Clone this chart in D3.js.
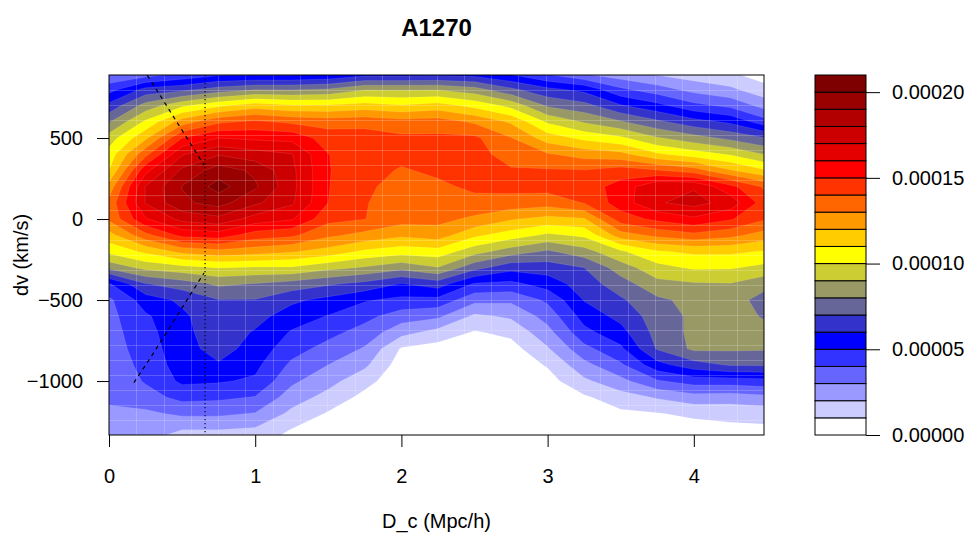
<!DOCTYPE html>
<html>
<head>
<meta charset="utf-8">
<script src="https://cdn.jsdelivr.net/npm/d3@7/dist/d3.min.js"></script>
<style>
  body { margin: 0; background: #fff; }
  svg { display: block; font-family: "Liberation Sans", Arial, Helvetica, sans-serif; }
</style>
</head>
<body>
<svg id="chart" width="971" height="537"></svg>
<script>
// density grid: one column per D_c value, one row per dv value (top to bottom)
const dcGrid = [0, 0.25, 0.5, 0.75, 1, 1.25, 1.5, 1.75, 2, 2.25, 2.5, 2.75, 3, 3.25, 3.5, 3.75, 4, 4.25, 4.5];
const dvGrid = [900, 800, 700, 600, 500, 400, 300, 200, 100, 0, -100, -200, -300, -400, -500,
  -600, -700, -800, -900, -1000, -1100, -1200, -1300, -1400];

// values in units of 1e-5
const density = [
  [3.0, 3.3, 4.0, 4.6, 4.6, 4.6, 4.8, 5.4, 5.4, 5.5, 5.4, 4.8, 3.8, 2.9, 2.3, 1.8, 1.4, 1.1, 0.4],
  [4.6, 6.3, 6.7, 7.4, 7.9, 7.9, 8.1, 8.9, 8.9, 8.9, 8.4, 7.2, 6.25, 5.7, 4.2, 3.45, 2.65, 2.2, 1.3],
  [6.3, 8.4, 9.8, 10.8, 11.5, 11.1, 11.1, 11.4, 11.1, 11.4, 10.7, 9.7, 7.85, 7.35, 6.1, 5.3, 4.3, 3.75, 2.55],
  [7.9, 10.2, 12.5, 13.8, 14.2, 13.8, 13.6, 13.7, 13.4, 13.5, 12.85, 11.85, 9.85, 8.9, 8.1, 7.2, 6.4, 5.8, 4.35],
  [9.5, 11.8, 15.0, 16.0, 15.8, 15.7, 14.5, 14.4, 14.2, 14.2, 14.2, 13.05, 11.5, 10.75, 10.2, 9.1, 8.4, 7.75, 7.0],
  [10.4, 13.7, 16.9, 17.9, 17.4, 17.05, 15.02, 14.5, 14.3, 14.3, 14.35, 13.6, 13.1, 12.6, 12.3, 11.15, 10.5, 9.9, 8.9],
  [11.0, 15.7, 18.2, 19.5, 18.8, 17.25, 15.05, 14.4, 13.9, 14.2, 14.35, 14.1, 14.1, 14.05, 14.45, 14.1, 13.5, 12.1, 11.05],
  [12.4, 17.05, 19.05, 20.4, 19.15, 17.3, 15.04, 14.15, 13.7, 13.8, 14.2, 14.3, 14.4, 14.5, 15.4, 16.9, 16.9, 15.3, 13.75],
  [13.3, 17.05, 18.8, 19.4, 18.2, 17.15, 15.0, 14.05, 13.6, 13.6, 13.7, 13.6, 13.4, 14.05, 15.5, 16.9, 17.35, 16.6, 14.35],
  [13.2, 15.9, 17.3, 17.7, 16.55, 16.1, 14.3, 14.02, 13.4, 13.3, 12.8, 12.1, 11.7, 11.9, 14.5, 15.25, 15.8, 15.1, 14.05],
  [11.6, 13.7, 15.3, 15.5, 14.5, 14.2, 13.2, 12.7, 12.2, 12.5, 11.2, 10.5, 9.8, 10.2, 12.55, 13.25, 13.7, 13.3, 12.5],
  [10.3, 11.2, 12.3, 12.7, 12.45, 12.1, 11.6, 10.8, 10.45, 10.6, 9.4, 8.5, 7.85, 8.6, 9.85, 10.9, 11.2, 11.2, 10.9],
  [8.3, 9.3, 9.7, 10.05, 9.9, 9.9, 9.3, 8.9, 8.35, 8.95, 7.35, 6.35, 6.5, 7.0, 8.5, 9.67, 10.15, 10.1, 9.7],
  [4.9, 6.95, 7.5, 8.2, 7.95, 7.6, 7.15, 6.7, 5.95, 6.5, 4.9, 4.75, 5.45, 6.5, 7.55, 8.7, 8.9, 8.95, 8.3],
  [3.8, 5.5, 6.2, 6.95, 6.95, 6.2, 5.7, 5.1, 4.75, 4.7, 3.3, 3.2, 4.2, 6.05, 6.85, 7.8, 8.3, 8.5, 7.5],
  [3.7, 4.85, 5.8, 6.7, 6.35, 5.5, 4.95, 4.3, 3.5, 3.2, 1.8, 2.15, 3.4, 5.4, 6.3, 7.5, 8.2, 8.5, 7.85],
  [3.6, 4.65, 5.7, 6.6, 5.9, 4.9, 4.3, 3.6, 2.35, 1.6, 0.9, 1.25, 2.65, 4.7, 5.65, 7.35, 8.25, 8.4, 8.3],
  [3.5, 4.5, 5.6, 6.4, 5.6, 4.4, 3.65, 2.9, 0.9, 0.6, 0.5, 0.6, 1.9, 3.7, 4.8, 7.1, 8.2, 8.15, 8.1],
  [3.4, 4.3, 5.5, 5.9, 5.25, 3.8, 3.0, 2.2, 0.5, 0.3, 0.3, 0.35, 1.1, 2.7, 3.85, 5.65, 6.6, 7.1, 7.15],
  [3.2, 4.1, 5.2, 5.1, 4.85, 3.2, 2.35, 1.35, 0.3, 0.2, 0.2, 0.25, 0.6, 1.8, 2.7, 3.9, 4.45, 4.5, 4.65],
  [3.1, 3.6, 4.3, 4.2, 3.95, 2.5, 1.65, 0.7, 0.2, 0.15, 0.15, 0.2, 0.4, 0.85, 1.55, 2.1, 2.6, 2.5, 2.75],
  [2.9, 2.8, 3.2, 3.2, 2.95, 1.75, 0.9, 0.4, 0.15, 0.1, 0.1, 0.15, 0.3, 0.5, 0.8, 0.95, 1.2, 1.3, 1.4],
  [2.7, 2.3, 2.0, 2.0, 1.85, 0.95, 0.5, 0.25, 0.1, 0.1, 0.1, 0.1, 0.2, 0.35, 0.45, 0.5, 0.6, 0.75, 0.8],
  [2.5, 1.9, 1.3, 1.2, 1.1, 0.6, 0.3, 0.15, 0.1, 0.1, 0.1, 0.1, 0.15, 0.25, 0.3, 0.3, 0.4, 0.5, 0.5]
];

const levels = [0, 1, 2, 3, 4, 5, 6, 7, 8, 9, 10, 11, 12, 13, 14, 15, 16, 17, 18, 19, 20];
const levelColors = ['#FFFFFF', '#CCCCFF', '#9999FF', '#6666FF', '#3333FF', '#0000FF', '#3333CC',
  '#666699', '#999966', '#CCCC33', '#FFFF00', '#FFCC00', '#FF9900', '#FF6600', '#FF3300',
  '#FF0000', '#E50000', '#CC0000', '#B20000', '#990000', '#7F0000'];

const xTicks = [0, 1, 2, 3, 4];
const yTicks = [500, 0, -500, -1000];
const keyTicks = [0, 5, 10, 15, 20];
const keyTickLabels = ['0.00000', '0.00005', '0.00010', '0.00015', '0.00020'];

// caustic amplitude (dashed, +/-) and virial radius (dotted)
const causticR = [0.17, 0.285, 0.65];
const causticA = [1010, 855, 333];
const rVirial = 0.657;

const plot = { left: 109, right: 764, top: 75, bottom: 435 };
const key = { left: 815, right: 866 };

const svg = d3.select('#chart');

const x = d3.scaleLinear().domain([0, 4.48]).range([plot.left, plot.right]);
const y = d3.scaleLinear().domain([-1333, 889]).range([plot.bottom, plot.top]);

svg.append('defs').append('clipPath').attr('id', 'plot-clip')
  .append('rect')
  .attr('x', plot.left).attr('y', plot.top)
  .attr('width', plot.right - plot.left).attr('height', plot.bottom - plot.top);

const plotArea = svg.append('g').attr('clip-path', 'url(#plot-clip)');

// filled contours
const nx = dcGrid.length;
const ny = dvGrid.length;
const gridX = d3.scaleLinear().domain([0.5, nx - 0.5]).range([dcGrid[0], dcGrid[nx - 1]]);
const gridY = d3.scaleLinear().domain([0.5, ny - 0.5]).range([dvGrid[0], dvGrid[ny - 1]]);
const toScreen = d3.geoTransform({
  point(gx, gy) { this.stream.point(x(gridX(gx)), y(gridY(gy))); }
});
const contourPath = d3.geoPath(toScreen);
const bands = d3.contours().size([nx, ny]).thresholds(levels)(density.flat());

plotArea.selectAll('path.band')
  .data(bands)
  .join('path')
  .attr('class', 'band')
  .attr('d', contourPath)
  .attr('fill', d => levelColors[levels.indexOf(d.value)])
  .attr('stroke', d => d.value > 0 ? 'rgba(255,255,255,0.18)' : 'none')
  .attr('stroke-width', 0.6);

// faint cell seams of the original polygon fill
const seamCols = d3.range(1, 24).map(i => 4.48 * i / 24);
const seamRows = d3.range(1, 24).map(j => -1333 + 2222 * j / 24);
const seams = plotArea.append('g')
  .attr('stroke', '#fff').attr('stroke-opacity', 0.2).attr('stroke-width', 1)
  .attr('shape-rendering', 'crispEdges');
seams.selectAll('line.col').data(seamCols).join('line').attr('class', 'col')
  .attr('x1', d => Math.round(x(d)) + 0.5).attr('x2', d => Math.round(x(d)) + 0.5)
  .attr('y1', plot.top).attr('y2', plot.bottom);
seams.selectAll('line.row').data(seamRows).join('line').attr('class', 'row')
  .attr('y1', d => Math.round(y(d)) + 0.5).attr('y2', d => Math.round(y(d)) + 0.5)
  .attr('x1', plot.left).attr('x2', plot.right);

// caustic lines
const causticLine = d3.line().x(d => x(d[0])).y(d => y(d[1]));
[1, -1].forEach(sign => {
  plotArea.append('path')
    .attr('d', causticLine(causticR.map((r, i) => [r, sign * causticA[i]])))
    .attr('fill', 'none').attr('stroke', '#000').attr('stroke-width', 1.2)
    .attr('stroke-dasharray', '4,4');
});

plotArea.append('line')
  .attr('x1', x(rVirial)).attr('x2', x(rVirial))
  .attr('y1', plot.top).attr('y2', plot.bottom)
  .attr('stroke', '#000').attr('stroke-width', 1.1)
  .attr('stroke-dasharray', '1.2,2.8');

// frame
svg.append('rect')
  .attr('x', plot.left).attr('y', plot.top)
  .attr('width', plot.right - plot.left).attr('height', plot.bottom - plot.top)
  .attr('fill', 'none').attr('stroke', '#000').attr('stroke-width', 1);

// axes
const xAxis = svg.append('g')
  .attr('transform', `translate(0,${plot.bottom})`)
  .call(d3.axisBottom(x).tickValues(xTicks).tickSize(12).tickPadding(22).tickFormat(d3.format('d')));
const yAxis = svg.append('g')
  .attr('transform', `translate(${plot.left},0)`)
  .call(d3.axisLeft(y).tickValues(yTicks).tickSize(12).tickPadding(14).tickFormat(d3.format('d')));

[xAxis, yAxis].forEach(g => {
  g.select('.domain').remove();
  g.attr('font-size', 20).attr('font-family', null);
  g.selectAll('line').attr('stroke', '#000');
  g.selectAll('text').attr('fill', '#000');
});

// colour key
const keyY = d3.scaleLinear().domain([0, 21]).range([plot.bottom, plot.top]);
svg.append('g').selectAll('rect')
  .data(levels)
  .join('rect')
  .attr('x', key.left)
  .attr('y', d => keyY(d + 1))
  .attr('width', key.right - key.left)
  .attr('height', d => keyY(d) - keyY(d + 1))
  .attr('fill', d => levelColors[d])
  .attr('stroke', '#000').attr('stroke-width', 1);

const keyAxis = svg.append('g')
  .attr('transform', `translate(${key.right},0)`)
  .call(d3.axisRight(keyY).tickValues(keyTicks).tickSize(14).tickPadding(12)
    .tickFormat((d, i) => keyTickLabels[i]));
keyAxis.select('.domain').remove();
keyAxis.attr('font-size', 20).attr('font-family', null);
keyAxis.selectAll('line').attr('stroke', '#000');
keyAxis.selectAll('text').attr('fill', '#000');

// titles
svg.append('text')
  .attr('x', (plot.left + plot.right) / 2).attr('y', 36)
  .attr('text-anchor', 'middle').attr('font-size', 24).attr('font-weight', 'bold')
  .text('A1270');

svg.append('text')
  .attr('x', (plot.left + plot.right) / 2).attr('y', 528)
  .attr('text-anchor', 'middle').attr('font-size', 20)
  .text('D_c (Mpc/h)');

svg.append('text')
  .attr('transform', `translate(28,${(plot.top + plot.bottom) / 2}) rotate(-90)`)
  .attr('text-anchor', 'middle').attr('font-size', 20)
  .text('dv (km/s)');
</script>
</body>
</html>
